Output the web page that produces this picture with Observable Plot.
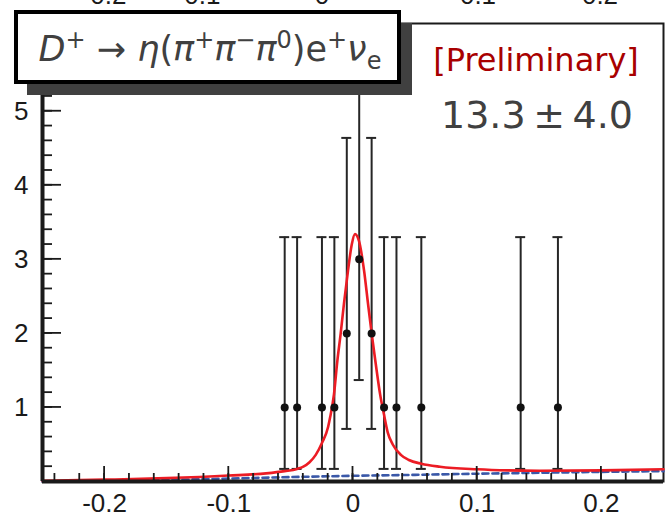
<!DOCTYPE html>
<html><head><meta charset="utf-8">
<script src="https://cdn.jsdelivr.net/npm/d3@7"></script>
<script src="https://cdn.jsdelivr.net/npm/@observablehq/plot@0.6"></script>
<style>
html,body{margin:0;padding:0;background:#fff;}
#chart{position:relative;width:665px;height:524px;overflow:hidden;}
</style>
</head><body><div id="chart"></div>
<script>
// ---- data ----
const binCenters = [-0.055,-0.045,-0.025,-0.015,-0.005,0.005,0.015,0.025,0.035,0.055,0.135,0.165];
const counts     = [1,1,1,1,2,3,2,1,1,1,1,1];
const errLow     = [0.17,0.17,0.17,0.17,0.71,1.37,0.71,0.17,0.17,0.17,0.17,0.17];
const errHigh    = [3.30,3.30,3.30,3.30,4.64,5.92,4.64,3.30,3.30,3.30,3.30,3.30];

const fitX = [-0.25,-0.2,-0.15,-0.1,-0.07,-0.055,-0.045,-0.04,-0.035,-0.03,-0.025,-0.02,-0.0185,-0.0153,-0.0126,-0.0099,-0.0073,-0.004,-0.001,0.0016,0.0048,0.0089,0.0121,0.0151,0.0183,0.0218,0.025,0.028,0.032,0.0385,0.045,0.055,0.07,0.1,0.125,0.15,0.2,0.25];
const fitY = [0.01,0.025,0.045,0.08,0.11,0.14,0.17,0.20,0.26,0.36,0.52,0.74,0.86,1.18,1.63,2.0,2.4,2.85,3.2,3.34,3.25,2.85,2.4,1.99,1.59,1.18,0.90,0.66,0.50,0.36,0.29,0.24,0.20,0.165,0.15,0.145,0.15,0.165];

const bkgX = [-0.25,-0.2,-0.15,-0.1,-0.05,0,0.05,0.1,0.15,0.2,0.25];
const bkgY = [0,0.003,0.02,0.04,0.06,0.077,0.09,0.105,0.118,0.13,0.14];

const xTicks = [-0.2,-0.1,0,0.1,0.2];
const yTicks = [1,2,3,4,5];
const topCutLabels = ["-0.2","-0.1","0","0.1","0.2"];
const titleParts = [
  {t:"D", it:true},{t:"+", sup:true},{t:" \u2192 "},{t:"\u03b7", it:true},{t:"("},
  {t:"\u03c0", it:true},{t:"+", sup:true},{t:"\u03c0", it:true},{t:"\u2212", sup:true},
  {t:"\u03c0", it:true},{t:"0", sup:true},{t:")e"},{t:"+", sup:true},{t:"\u03bd", it:true},{t:"e", sub:true}
];
const prelimText = "[Preliminary]";
const yieldText = "13.3\u2009\u00b1\u20094.0";

// ---- build ----
const rows = binCenters.map((x,i)=>({x, y:counts[i], lo:errLow[i], hi:errHigh[i]}));
const fit = fitX.map((x,i)=>({x, y:fitY[i]}));
const bkg = bkgX.map((x,i)=>({x, y:bkgY[i]}));
const xMinor = d3.range(-0.24, 0.2501, 0.02).map(v=>+v.toFixed(2));
const yMinor = d3.range(0.2, 6.1, 0.2).map(v=>+v.toFixed(1));
const ink = "#1a1a1a";
const W = 665, H = 524, mL = 42, mR = 2, mT = 23, mB = 43;

const plot = Plot.plot({
  width: W, height: H,
  marginLeft: mL, marginRight: mR, marginTop: mT, marginBottom: mB,
  x: {domain: [-0.25, 0.25], label: null},
  y: {domain: [0, 6.185], label: null},
  style: {fontFamily: "'Liberation Sans', Arial, sans-serif", fontSize: "26px", color: ink, background: "white"},
  marks: [
    Plot.frame({stroke: ink, strokeWidth: 2}),
    Plot.line(bkg, {x:"x", y:"y", stroke:"#3a58a8", strokeWidth:2.6, strokeDasharray:"6,4"}),
    Plot.ruleX(rows, {x:"x", y1:"lo", y2:"hi", stroke:"#262626", strokeWidth:2}),
    Plot.ruleY(rows, {y:"hi", x1:"x", x2:"x", insetLeft:-5, insetRight:-5, stroke:"#262626", strokeWidth:2}),
    Plot.ruleY(rows, {y:"lo", x1:"x", x2:"x", insetLeft:-5, insetRight:-5, stroke:"#262626", strokeWidth:2}),
    Plot.line(fit, {x:"x", y:"y", stroke:"#ec1c24", strokeWidth:2.6, curve:"monotone-x"}),
    Plot.dot(rows, {x:"x", y:"y", r:4, fill:"#111", stroke:"none"}),
    Plot.axisX({ticks: xTicks, tickSize: 0, tickPadding: 12, tickFormat: d=>String(d), fill: ink, label: null}),
    Plot.axisY({ticks: yTicks, tickSize: 0, tickPadding: 14, tickFormat: d=>String(d), fill: ink, label: null}),
    Plot.ruleX([-0.25], {stroke: ink, strokeWidth: 4}),
    Plot.ruleY([0], {stroke: ink, strokeWidth: 4})
  ]
});
document.getElementById("chart").appendChild(plot);

const svg = d3.select(plot);
const sx = plot.scale("x"), sy = plot.scale("y");
const x0 = sx.apply(-0.25), y0 = sy.apply(0);

// ---- inward axis ticks, placed with Plot's own scales ----
const tg = svg.append("g").attr("stroke", ink).attr("stroke-width", 1.8);
const addX = (vals, len) => vals.forEach(v => tg.append("line")
  .attr("x1", sx.apply(v)).attr("x2", sx.apply(v)).attr("y1", y0).attr("y2", y0 - len));
const addY = (vals, len) => vals.forEach(v => tg.append("line")
  .attr("y1", sy.apply(v)).attr("y2", sy.apply(v)).attr("x1", x0).attr("x2", x0 + len));
addX(xMinor, 8); addX(xTicks, 15);
addY(yMinor, 10); addY(yTicks, 19);

// ---- overlays: cut-off labels of the panel above, title box, text ----
const topG = svg.append("g").attr("font-family","'Liberation Sans', Arial, sans-serif").attr("font-size",26).attr("fill",ink).attr("text-anchor","middle");
const topPos = [104, 198, 322, 478, 600];
topCutLabels.forEach((s,i)=>topG.append("text").attr("x",topPos[i]).attr("y",4).text(s));

const box = svg.append("g");
box.append("rect").attr("x",27).attr("y",23).attr("width",385).attr("height",72).attr("fill","#404040");
box.append("rect").attr("x",16).attr("y",12).attr("width",383).attr("height",70).attr("fill","white").attr("stroke","#000").attr("stroke-width",4);
const tt = box.append("text").attr("x",210).attr("y",61).attr("text-anchor","middle")
  .attr("font-family","'DejaVu Sans', sans-serif").attr("font-size",35).attr("fill","#404040");
let shift = 0;
titleParts.forEach(p=>{
  const target = p.sup ? -13 : p.sub ? 8 : 0;
  const sp = tt.append("tspan").attr("dy", target - shift).text(p.t);
  shift = target;
  if (p.it) sp.attr("font-style","italic");
  if (p.sup || p.sub) sp.attr("font-size",24);
});

svg.append("text").attr("x",536).attr("y",71).attr("text-anchor","middle")
  .attr("font-family","'DejaVu Sans', sans-serif").attr("font-size",32).attr("fill","#a80000").text(prelimText);
svg.append("text").attr("x",537).attr("y",128).attr("text-anchor","middle")
  .attr("font-family","'DejaVu Sans', sans-serif").attr("font-size",38).attr("fill","#404040").text(yieldText);
</script>
</body></html>
